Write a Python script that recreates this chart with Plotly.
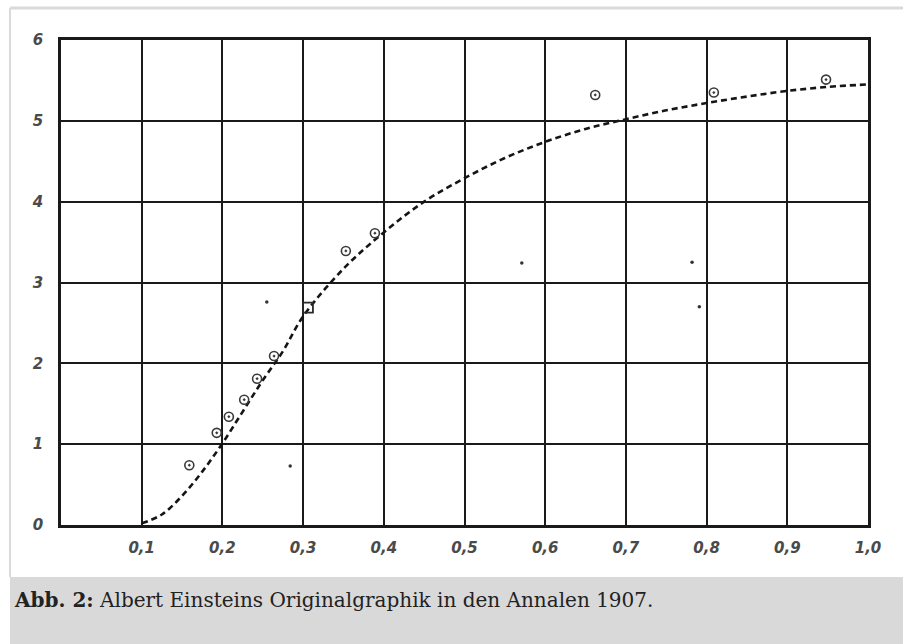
import plotly.graph_objects as go

# ---- data ----
curve_x = [0.10, 0.125, 0.15, 0.175, 0.20, 0.225, 0.25, 0.275, 0.30, 0.35, 0.40, 0.45,
           0.50, 0.55, 0.60, 0.65, 0.70, 0.75, 0.80, 0.85, 0.90, 0.95, 1.00]
curve_y = [0.02, 0.13, 0.36, 0.66, 1.01, 1.40, 1.79, 2.15, 2.58, 3.17, 3.62, 4.00,
           4.29, 4.54, 4.74, 4.90, 5.02, 5.13, 5.22, 5.30, 5.37, 5.42, 5.45]

circle_x = [0.159, 0.193, 0.208, 0.227, 0.243, 0.264, 0.353, 0.389, 0.662, 0.809, 0.948]
circle_y = [0.74, 1.14, 1.34, 1.55, 1.81, 2.09, 3.39, 3.61, 5.32, 5.35, 5.51]

square_x = [0.306]
square_y = [2.69]

speck_x = [0.571, 0.782, 0.791, 0.255, 0.284, 1.025]
speck_y = [3.24, 3.25, 2.70, 2.76, 0.73, 4.23]

x_ticks = [0.1, 0.2, 0.3, 0.4, 0.5, 0.6, 0.7, 0.8, 0.9, 1.0]
x_ticktext = ["0,1", "0,2", "0,3", "0,4", "0,5", "0,6", "0,7", "0,8", "0,9", "1,0"]
y_ticks = [0, 1, 2, 3, 4, 5, 6]
y_ticktext = ["0", "1", "2", "3", "4", "5", "6"]

caption = "<b>Abb. 2:</b> Albert Einsteins Originalgraphik in den Annalen 1907."

# ---- layout geometry (pixels, page coords) ----
W, H = 903, 644
L, R, T, B = 61, 868, 40, 525


def px(x):
    return (x - L) / (R - L)


def py(y):
    return (B - y) / (B - T)


fig = go.Figure()

fig.add_trace(go.Scatter(
    x=curve_x, y=curve_y, mode="lines", line_shape="spline",
    line=dict(color="#151515", width=2.6, dash="6px,4px"),
    hoverinfo="skip", showlegend=False))

fig.add_trace(go.Scatter(
    x=circle_x, y=circle_y, mode="markers",
    marker=dict(symbol="circle-open-dot", size=9, color="#3a3a3a", line=dict(width=1.6)),
    showlegend=False))

fig.add_trace(go.Scatter(
    x=square_x, y=square_y, mode="markers",
    marker=dict(symbol="square-open", size=10, color="#2a2a2a", line=dict(width=1.8)),
    showlegend=False))

fig.add_trace(go.Scatter(
    x=speck_x, y=speck_y, mode="markers", cliponaxis=False,
    marker=dict(symbol="circle", size=3.5, color="#333333"),
    hoverinfo="skip", showlegend=False))

tickfont = dict(family="DejaVu Sans", size=15, color="#4a4a4a", style="italic", weight="bold")

fig.update_xaxes(
    range=[0, 1.0], tickvals=x_ticks, ticktext=x_ticktext, tickfont=tickfont,
    showgrid=True, gridcolor="#1a1a1a", gridwidth=2, zeroline=False,
    showline=True, linecolor="#1a1a1a", linewidth=2.5, mirror=True,
    ticks="", ticklabelstandoff=7)
fig.update_yaxes(
    range=[0, 6], tickvals=y_ticks, ticktext=y_ticktext, tickfont=tickfont,
    showgrid=True, gridcolor="#1a1a1a", gridwidth=2, zeroline=False,
    showline=True, linecolor="#1a1a1a", linewidth=2.5, mirror=True,
    ticks="", ticklabelstandoff=12)

shapes = [
    # caption box
    dict(type="rect", xref="paper", yref="paper", x0=px(10), x1=px(910), y0=py(577), y1=py(650),
         fillcolor="#d9d9d9", line=dict(width=0), layer="below"),
    # light frame: top and left
    dict(type="line", xref="paper", yref="paper", x0=px(10), x1=px(910), y0=py(8), y1=py(8),
         line=dict(color="#dadada", width=3), layer="below"),
    dict(type="line", xref="paper", yref="paper", x0=px(10), x1=px(10), y0=py(8), y1=py(577),
         line=dict(color="#dadada", width=2), layer="below"),
]

fig.update_layout(
    width=W, height=H,
    margin=dict(l=L, r=W - R, t=T, b=H - B),
    paper_bgcolor="white", plot_bgcolor="white",
    shapes=shapes,
    annotations=[dict(
        text=caption, xref="paper", yref="paper", x=px(12), y=py(600),
        xanchor="left", yanchor="middle", showarrow=False,
        font=dict(family="DejaVu Serif", size=20, color="#222222"))],
)

fig.write_html(
    "out.html",
    config={"displayModeBar": False},
    post_script="document.body.style.margin='0';document.body.style.overflow='hidden';")
